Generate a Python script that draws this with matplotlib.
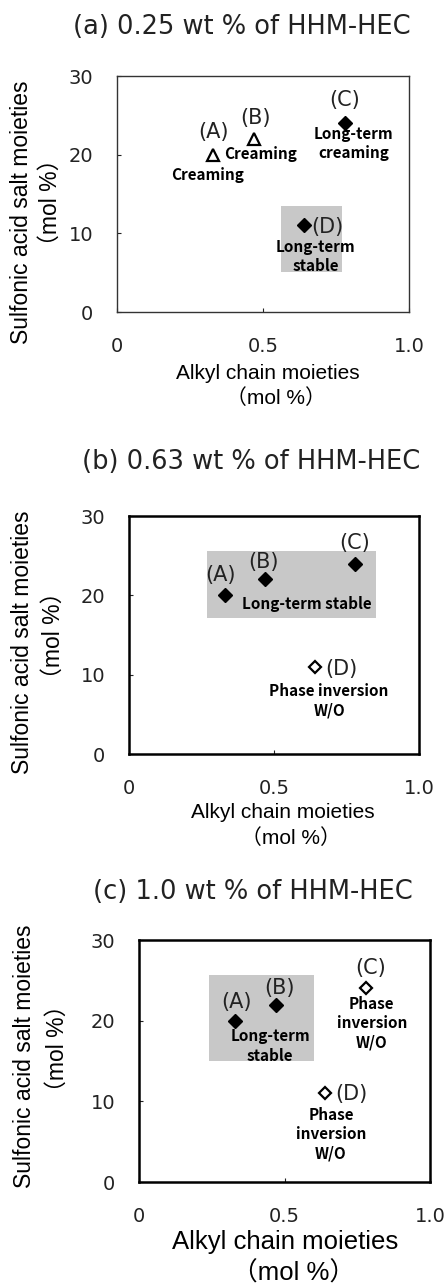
import matplotlib
matplotlib.use('Agg')
import matplotlib.pyplot as plt
from matplotlib.patches import Rectangle

W, H = 447, 1285
JP = 'Noto Sans CJK JP'
THIN = ['DejaVu Sans', JP]
SANS = ['Liberation Sans', JP]

# composition of the four HHM-HEC samples (A)-(D)
sample_names = ['(A)', '(B)', '(C)', '(D)']
alkyl = [0.33, 0.47, 0.78, 0.64]
sulfonic = [20, 22, 24, 11]

# marker style for each sample, per polymer concentration
style_a = ['tri', 'tri', 'fill', 'fill']
style_b = ['fill', 'fill', 'fill', 'open']
style_c = ['fill', 'fill', 'open', 'open']

# position of the (A)..(D) tags
tags_a = [(0.33, 22.9), (0.476, 24.6), (0.78, 26.9), (0.72, 10.8)]
tags_b = [(0.316, 22.6), (0.463, 24.2), (0.777, 26.6), (0.733, 10.7)]
tags_c = [(0.335, 22.35), (0.484, 24.0), (0.796, 26.5), (0.73, 10.9)]

# emulsion state notes
notes_a = [('Creaming', 0.31, 17.4), ('Creaming', 0.49, 20.1),
           ('Long-term\ncreaming', 0.81, 21.4), ('Long-term\nstable', 0.68, 7.05)]
notes_b = [('Long-term stable', 0.612, 18.9), ('Phase inversion\nW/O', 0.69, 6.75)]
notes_c = [('Long-term\nstable', 0.45, 16.85), ('Phase\ninversion\nW/O', 0.80, 19.7),
           ('Phase\ninversion\nW/O', 0.66, 5.9)]

# shaded "stable" region (x0, y0, x1, y1)
box_a = (0.56, 5.1, 0.77, 13.5)
box_b = (0.27, 17.2, 0.85, 25.6)
box_c = (0.24, 15.0, 0.60, 25.7)

titles = ['(a) 0.25 wt % of HHM-HEC', '(b) 0.63 wt % of HHM-HEC', '(c) 1.0 wt % of HHM-HEC']

fig = plt.figure(figsize=(W / 100, H / 100), dpi=100)


def px(x, y):
    return x / W, 1 - y / H


panels = [
    # axes rect in pixels (left, top, right, bottom), spine width/colour, xlabel size, text spots
    dict(rect=(117, 76, 409, 312), lw=1.0, sc='#333333', xl=15, styles=style_a, tags=tags_a,
         notes=notes_a, box=box_a, title=(242, 27), yl1=(22, 212), yl2=(50, 202),
         xl1=(268, 373), xl2=(276, 398)),
    dict(rect=(129, 516, 419, 754), lw=1.8, sc='black', xl=15, styles=style_b, tags=tags_b,
         notes=notes_b, box=box_b, title=(251, 462), yl1=(23, 642), yl2=(53, 635),
         xl1=(283, 812), xl2=(291, 838)),
    dict(rect=(139, 940, 430, 1182), lw=1.8, sc='black', xl=18.5, styles=style_c, tags=tags_c,
         notes=notes_c, box=box_c, title=(253, 892), yl1=(25, 1056), yl2=(57, 1048),
         xl1=(285, 1242), xl2=(294, 1273)),
]

for p, title in zip(panels, titles):
    l, t, r, b = p['rect']
    ax = fig.add_axes([l / W, 1 - b / H, (r - l) / W, (b - t) / H])
    ax.set_xlim(0, 1.0)
    ax.set_ylim(0, 30)
    for s in ax.spines.values():
        s.set_linewidth(p['lw'])
        s.set_color(p['sc'])
    ax.set_xticks([0, 0.5, 1.0])
    ax.set_xticklabels(['0', '0.5', '1.0'])
    ax.set_yticks([0, 10, 20, 30])
    ax.tick_params(direction='in', length=3, width=0.8, labelsize=14, colors='#222222')
    ax.tick_params(axis='x', pad=18)
    ax.tick_params(axis='y', pad=17)
    for lab in ax.get_xticklabels() + ax.get_yticklabels():
        lab.set_family(THIN)

    x0, y0, x1, y1 = p['box']
    ax.add_patch(Rectangle((x0, y0), x1 - x0, y1 - y0, color='#c8c8c8', lw=0, zorder=0))

    for xv, yv, st in zip(alkyl, sulfonic, p['styles']):
        if st == 'tri':
            ax.plot(xv, yv, marker='^', ms=8, mfc='white', mec='black', mew=1.6, zorder=3)
        elif st == 'open':
            ax.plot(xv, yv, marker='D', ms=6, mfc='white', mec='black', mew=1.6, zorder=3)
        else:
            ax.plot(xv, yv, marker='D', ms=7.5, color='black', zorder=3)

    for name, (tx, ty) in zip(sample_names, p['tags']):
        ax.text(tx, ty, name, family=THIN, fontsize=15, ha='center', va='center', color='#222222')

    for txt, nx, ny in p['notes']:
        ax.text(nx, ny, txt, family=JP, fontsize=11, fontweight='bold',
                ha='center', va='center', linespacing=1.25)

    fig.text(*px(*p['title']), title, family=THIN, fontsize=18.5, ha='center', va='center',
             color='#222222')
    fig.text(*px(*p['yl1']), 'Sulfonic acid salt moieties', family=SANS, fontsize=16.5,
             rotation=90, ha='center', va='center')
    fig.text(*px(*p['yl2']), '（mol %）', family=SANS, fontsize=16.5,
             rotation=90, ha='center', va='center')
    fig.text(*px(*p['xl1']), 'Alkyl chain moieties', family=SANS, fontsize=p['xl'],
             ha='center', va='center')
    fig.text(*px(*p['xl2']), '（mol %）', family=SANS, fontsize=p['xl'],
             ha='center', va='center')

fig.savefig('out.png', dpi=100)
